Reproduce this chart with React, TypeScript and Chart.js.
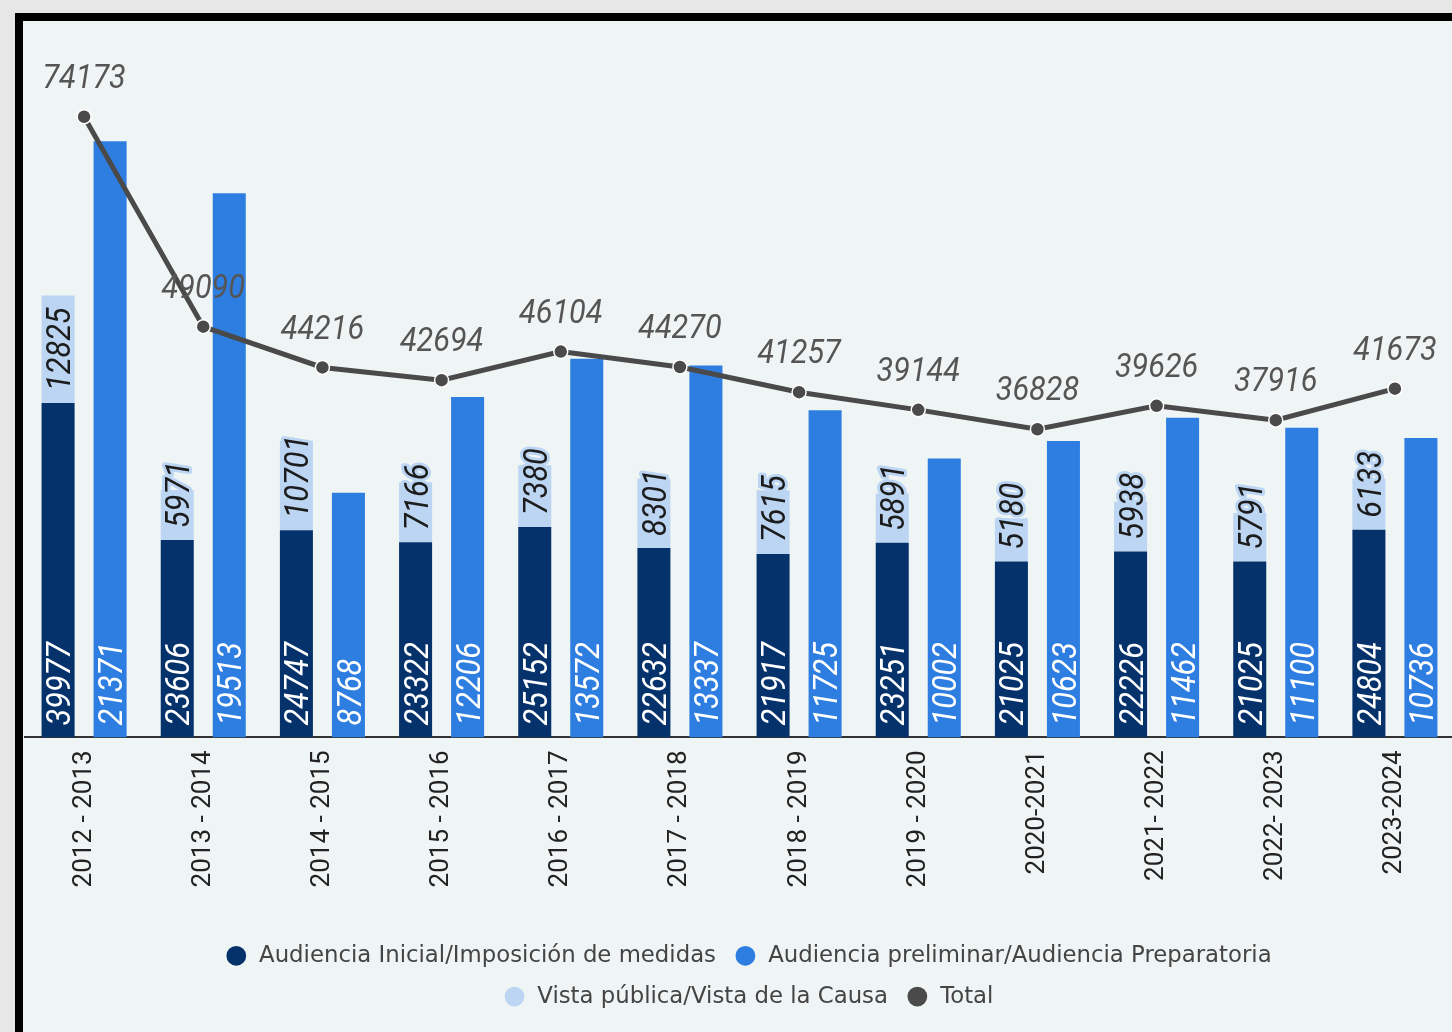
import React, { useEffect, useRef } from "react";
import { Chart, registerables } from "chart.js";

Chart.register(...registerables);

const categories = [
  "2012 - 2013",
  "2013 - 2014",
  "2014 - 2015",
  "2015 - 2016",
  "2016 - 2017",
  "2017 - 2018",
  "2018 - 2019",
  "2019 - 2020",
  "2020-2021",
  "2021- 2022",
  "2022- 2023",
  "2023-2024",
];
const audienciaInicial = [39977, 23606, 24747, 23322, 25152, 22632, 21917, 23251, 21025, 22226, 21025, 24804];
const audienciaPreliminar = [21371, 19513, 8768, 12206, 13572, 13337, 11725, 10002, 10623, 11462, 11100, 10736];
const vistaPublica = [12825, 5971, 10701, 7166, 7380, 8301, 7615, 5891, 5180, 5938, 5791, 6133];
const totals = [74173, 49090, 44216, 42694, 46104, 44270, 41257, 39144, 36828, 39626, 37916, 41673];

const DARK = "#05326b";
const MID = "#2d7ee0";
const LIGHT = "#bcd5f2";
const LINE = "#4a4a4a";

const LABEL_SIZE = 34;
const LABEL_FONT = `italic ${LABEL_SIZE}px Roboto`;
const CAP = LABEL_SIZE * 0.711;
const XSCALE = 0.9;

const valueLabels = {
  id: "valueLabels",
  afterInit(chart: any) {
    const lg = chart.legend;
    if (lg && !lg.__patched) {
      const orig = lg.update.bind(lg);
      lg.update = (maxWidth: number, maxHeight: number, margins: any) => orig(Math.min(maxWidth, 1200), maxHeight, margins);
      lg.__patched = true;
    }
  },
  afterDatasetsDraw(chart: any) {
    const ctx = chart.ctx as CanvasRenderingContext2D;
    [0, 1, 2].forEach((di) => {
      const meta = chart.getDatasetMeta(di);
      const data = chart.data.datasets[di].data as number[];
      meta.data.forEach((bar: any, i: number) => {
        const p = bar.getProps(["x", "y", "base"], true);
        const text = String(data[i]);
        ctx.save();
        ctx.translate(p.x, p.base - 12);
        ctx.rotate(-Math.PI / 2);
        ctx.scale(XSCALE, 1);
        ctx.font = LABEL_FONT;
        ctx.textAlign = "left";
        ctx.textBaseline = "alphabetic";
        if (di === 2) {
          ctx.lineWidth = 6;
          ctx.lineJoin = "round";
          ctx.strokeStyle = LIGHT;
          ctx.strokeText(text, 0, CAP / 2);
          ctx.fillStyle = "#1c1c1c";
        } else {
          ctx.fillStyle = "#ffffff";
        }
        ctx.fillText(text, 0, CAP / 2);
        ctx.restore();
      });
    });
    const lineMeta = chart.getDatasetMeta(3);
    const lineData = chart.data.datasets[3].data as number[];
    lineMeta.data.forEach((pt: any, i: number) => {
      const p = pt.getProps(["x", "y"], true);
      ctx.save();
      ctx.translate(p.x, p.y - 41);
      ctx.scale(XSCALE, 1);
      ctx.font = LABEL_FONT;
      ctx.textAlign = "center";
      ctx.textBaseline = "alphabetic";
      ctx.fillStyle = "#555555";
      ctx.fillText(String(lineData[i]), 0, CAP / 2);
      ctx.restore();
    });
  },
};

export default function App() {
  const ref = useRef<HTMLCanvasElement>(null);

  useEffect(() => {
    const barCommon = { categoryPercentage: 0.873, barPercentage: 0.635, order: 1 };
    const chart = new Chart(ref.current as HTMLCanvasElement, {
      type: "bar",
      data: {
        labels: categories,
        datasets: [
          {
            label: "Audiencia Inicial/Imposición de medidas",
            data: audienciaInicial,
            backgroundColor: DARK,
            stack: "a",
            yAxisID: "y",
            ...barCommon,
          },
          {
            label: "Audiencia preliminar/Audiencia Preparatoria",
            data: audienciaPreliminar,
            backgroundColor: MID,
            stack: "b",
            yAxisID: "y2",
            ...barCommon,
          },
          {
            label: "Vista pública/Vista de la Causa",
            data: vistaPublica,
            backgroundColor: LIGHT,
            stack: "a",
            yAxisID: "y",
            ...barCommon,
          },
          {
            type: "line",
            label: "Total",
            data: totals,
            borderColor: LINE,
            backgroundColor: LINE,
            borderWidth: 5,
            pointRadius: 7,
            pointBackgroundColor: LINE,
            pointBorderColor: "#ffffff",
            pointBorderWidth: 1.5,
            yAxisID: "y",
            stack: "total",
            order: 0,
            tension: 0,
          } as any,
        ],
      },
      options: {
        animation: false,
        responsive: false,
        layout: { autoPadding: false, padding: { top: 47, bottom: 14, left: 1.5, right: 0 } },
        scales: {
          x: {
            stacked: true,
            grid: { display: false, drawTicks: false },
            border: { display: true, color: "#333333", width: 2 },
            ticks: {
              autoSkip: false,
              minRotation: 90,
              maxRotation: 90,
              padding: 13,
              color: "#222222",
              font: { family: "Roboto", size: 26 },
            },
            afterFit: (s: any) => {
              s.height = 189;
              s.paddingLeft = 0;
              s.paddingRight = 0;
            },
          },
          y: { stacked: true, display: false, min: 0, max: 80000 },
          y2: {
            stacked: true,
            position: "right",
            min: 0,
            max: 24000,
            display: true,
            ticks: { display: false },
            grid: { display: false },
            border: { display: false },
            afterFit: (s: any) => {
              s.width = 17.5;
            },
          },
        },
        plugins: {
          tooltip: { enabled: false },
          legend: {
            position: "bottom",
            labels: {
              usePointStyle: true,
              pointStyle: "circle",
              boxWidth: 23,
              boxHeight: 14,
              padding: 18,
              color: "#444444",
              font: { family: "DejaVu Sans", size: 22.8 },
              sort: (a: any, b: any) => a.datasetIndex - b.datasetIndex,
              generateLabels: (c: any) =>
                (Chart.defaults.plugins.legend.labels as any)
                  .generateLabels(c)
                  .map((l: any) => ({ ...l, lineWidth: 0, strokeStyle: "rgba(0,0,0,0)", pointStyle: "circle" })),
            },
          },
        },
      } as any,
      plugins: [valueLabels],
    });
    return () => chart.destroy();
  }, []);

  return (
    <div
      style={{
        position: "fixed",
        left: 0,
        top: 0,
        width: 1452,
        height: 1032,
        background: "#e7e7e7",
        overflow: "hidden",
      }}
    >
      <div
        style={{
          position: "absolute",
          left: 15,
          top: 13,
          width: 1500,
          height: 1100,
          borderLeft: "8px solid #000",
          borderTop: "8px solid #000",
          background: "#eff5f5",
        }}
      >
        <canvas ref={ref} width={1449} height={1011} style={{ display: "block", position: "absolute", left: 0, top: 0 }} />
      </div>
    </div>
  );
}
